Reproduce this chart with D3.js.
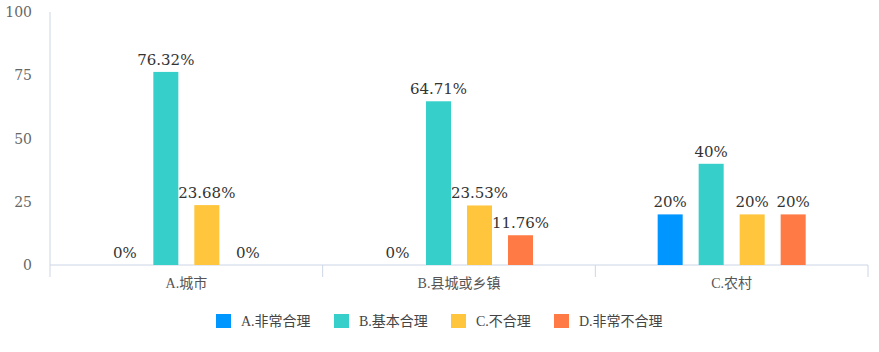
<!DOCTYPE html>
<html lang="zh">
<head>
<meta charset="UTF-8">
<title>Chart</title>
<script src="https://d3js.org/d3.v7.min.js"></script>
<style>
  body { margin: 0; padding: 0; background: #fff; overflow: hidden; }
  .tick-label { font-family: "DejaVu Serif"; font-size: 14px; fill: #666; }
  .val { font-family: "DejaVu Serif"; font-size: 15px; fill: #333; }
  .cat { font-family: "Liberation Serif", "Noto Sans CJK SC", sans-serif; font-size: 14px; fill: #555; }
  .leg { font-family: "Liberation Serif", "Noto Sans CJK SC", sans-serif; font-size: 14px; fill: #444; }
</style>
</head>
<body>
<svg id="chart" width="879" height="352"></svg>
<script>
  // categories, series names and values (percent)
  const categories = ["A.城市", "B.县城或乡镇", "C.农村"];
  const seriesNames = ["A.非常合理", "B.基本合理", "C.不合理", "D.非常不合理"];
  const seriesColors = ["#0096ff", "#36cfc9", "#ffc53d", "#ff7a45"];
  const values = [
    [0, 76.32, 23.68, 0],
    [0, 64.71, 23.53, 11.76],
    [20, 40, 20, 20]
  ];
  const valueLabels = [
    ["0%", "76.32%", "23.68%", "0%"],
    ["0%", "64.71%", "23.53%", "11.76%"],
    ["20%", "40%", "20%", "20%"]
  ];
  const yTicks = [0, 25, 50, 75, 100];

  const svg = d3.select("#chart");
  const x0 = 50, x1 = 868, yZero = 265, yTop = 12;
  const axisColor = "#ccd6e6";

  const x = d3.scaleBand().domain(categories).range([x0, x1]);
  const xs = d3.scaleBand().domain(seriesNames).range([-74, 74]).paddingInner(0.39).paddingOuter(0);
  const y = d3.scaleLinear().domain([0, 100]).range([yZero, yTop]);

  // y axis line
  svg.append("line").attr("x1", x0).attr("x2", x0).attr("y1", y(100)).attr("y2", yZero + 12)
    .attr("stroke", axisColor);
  // x axis line
  svg.append("line").attr("x1", x0).attr("x2", x1).attr("y1", yZero).attr("y2", yZero)
    .attr("stroke", axisColor);
  // category dividers
  categories.forEach(c => {
    const xx = x(c) + x.bandwidth();
    svg.append("line").attr("x1", xx).attr("x2", xx).attr("y1", yZero).attr("y2", yZero + 12)
      .attr("stroke", axisColor);
  });

  // y tick labels
  svg.selectAll(".tick-label").data(yTicks).enter().append("text")
    .attr("class", "tick-label")
    .attr("x", 32).attr("y", d => y(d) + 5)
    .attr("text-anchor", "end")
    .text(d => d);

  // category labels
  svg.selectAll(".cat").data(categories).enter().append("text")
    .attr("class", "cat")
    .attr("x", d => x(d) + x.bandwidth() / 2)
    .attr("y", yZero + 23)
    .attr("text-anchor", "middle")
    .text(d => d);

  // bars
  categories.forEach((c, ci) => {
    const cx = x(c) + x.bandwidth() / 2;
    seriesNames.forEach((s, si) => {
      const v = values[ci][si];
      const bx = cx + xs(s);
      if (v > 0) {
        svg.append("rect")
          .attr("x", bx).attr("y", y(v))
          .attr("width", xs.bandwidth()).attr("height", yZero - y(v))
          .attr("fill", seriesColors[si]);
      }
      svg.append("text").attr("class", "val")
        .attr("x", bx + xs.bandwidth() / 2)
        .attr("y", y(v) - 7)
        .attr("text-anchor", "middle")
        .text(valueLabels[ci][si]);
    });
  });

  // legend
  const legX = [216, 334, 451, 554];
  const leg = svg.selectAll(".legitem").data(seriesNames).enter().append("g")
    .attr("transform", (d, i) => `translate(${legX[i]},314)`);
  leg.append("rect").attr("width", 15).attr("height", 14).attr("fill", (d, i) => seriesColors[i]);
  leg.append("text").attr("class", "leg").attr("x", 25).attr("y", 12).text(d => d);
</script>
</body>
</html>
